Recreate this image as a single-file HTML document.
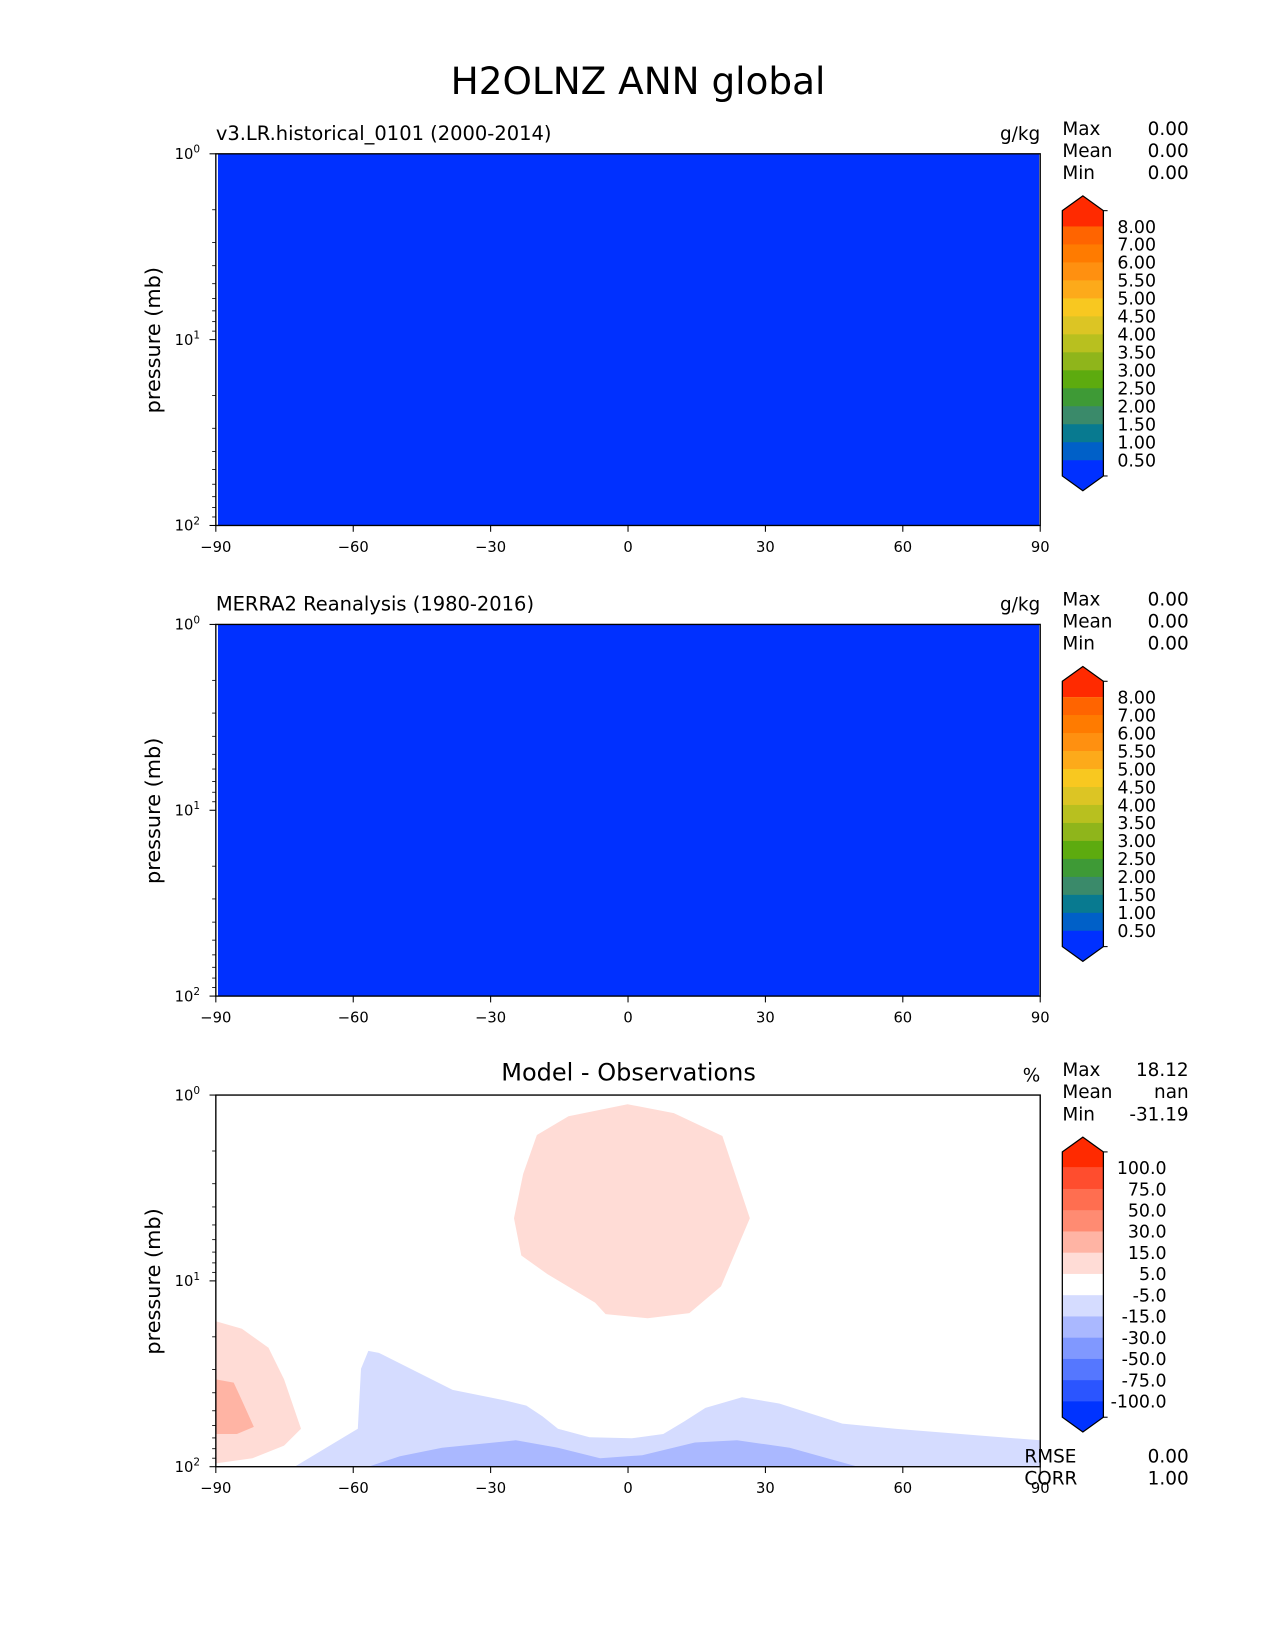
<!DOCTYPE html>
<html><head><meta charset="utf-8">
<style>
html,body{margin:0;padding:0;background:#fff;}
svg{display:block;font-family:"DejaVu Sans","Liberation Sans",sans-serif;}
</style></head>
<body>
<svg id="fig" width="1275" height="1650" viewBox="0 0 1211 1567" xmlns="http://www.w3.org/2000/svg">
<rect x="0" y="0" width="1211" height="1567" fill="#fff"/>
<text x="606" y="89" font-size="35.5" text-anchor="middle">H2OLNZ ANN global</text>
</svg>
<script>
// ---- data ----
const latTicks = [-90,-60,-30,0,30,60,90];
const fieldLevels = ["8.00","7.00","6.00","5.50","5.00","4.50","4.00","3.50","3.00","2.50","2.00","1.50","1.00","0.50"];
const fieldColors = ["#ff2a00","#ff6400","#ff7b00","#ff9010","#fdaa1a","#f8c820","#dcc524","#b8c01f","#8fb51b","#5dab0f","#3e9a36","#3a8a6a","#087a90","#0060c8","#0030ff"];
const diffLevels = ["100.0","75.0","50.0","30.0","15.0","5.0","-5.0","-15.0","-30.0","-50.0","-75.0","-100.0"];
const diffColors = ["#ff2a00","#ff4d2e","#ff6e50","#ff8b72","#ffb4a4","#ffdcd6","#ffffff","#d5dcff","#aab8ff","#8098ff","#5577ff","#2b55ff","#0033ff"];
const stats1 = [["Max","0.00"],["Mean","0.00"],["Min","0.00"]];
const stats2 = [["Max","0.00"],["Mean","0.00"],["Min","0.00"]];
const stats3 = [["Max","18.12"],["Mean","nan"],["Min","-31.19"]];
const stats3b = [["RMSE","0.00"],["CORR","1.00"]];
// contour polygons for difference panel: [lat, pressure mb]
const pinkBlobLat = [-19.9,-13.0,-0.1,10.0,20.6,26.6,20.3,13.4,4.3,-4.9,-7.2,-17.6,-23.3,-24.9,-22.9];
const pinkBlobP   = [1.64,1.30,1.12,1.25,1.66,4.6,10.7,14.9,15.9,15.1,13.1,9.2,7.3,4.6,2.66];
const pinkLeftLat = [-90,-84.3,-78.5,-75.1,-71.4,-75.1,-82.0,-90];
const pinkLeftP   = [16.5,18.1,22.9,33.9,62.5,77,90,96];
const salmonLeftLat = [-90,-86.1,-84.3,-81.7,-85.4,-90];
const salmonLeftP   = [33.9,35.3,44,61,66.7,66.7];
const blueLightLat = [-72.8,-59.0,-58.3,-56.7,-54.4,-45.2,-38.3,-26.8,-22.2,-18.7,-15.3,-8.4,0.8,7.7,12.3,16.9,24.9,33.0,46.8,58.3,90,90];
const blueLightP   = [100,62.5,29.7,23.8,24.4,31.7,38.6,44,46.9,53.5,62.5,69.4,70.3,66.7,57,48.2,42.3,45.7,58.6,62.5,72.1,100];
const blueMidLat = [-56.7,-49.8,-40.6,-24.5,-15.3,-6.1,3.1,14.6,23.8,35.3,50.2];
const blueMidP   = [100,87.8,79,72.1,79,90,86.7,74.1,72.1,79,100];

// ---- helpers ----
const NS="http://www.w3.org/2000/svg";
const svg=document.getElementById('fig');
function mk(tag,attrs,parent){const e=document.createElementNS(NS,tag);for(const k in attrs)e.setAttribute(k,attrs[k]);(parent||svg).appendChild(e);return e;}
const X0=205,X1=988;
function xS(lat){return X0+(lat+90)/180*(X1-X0);}
function yS(p,top){return top+Math.log10(p)/2*353;}

function panel(top,key,leftTitle,rightUnit,centerTitle,fill){
  const g=mk('g',{});
  
  
  if(fill){
    const r=mk('rect',{x:X0+2,y:top,width:X1-X0-3,height:353,fill:fill},g);
    
    
  }
  if(leftTitle){const t=mk('text',{x:205,y:top-13,'font-size':18.5},g);t.textContent=leftTitle;
    }
  if(centerTitle){const t=mk('text',{x:597,y:top-14,'font-size':22.8,'text-anchor':'middle'},g);t.textContent=centerTitle;
    }
  const u=mk('text',{x:988,y:top-13,'font-size':17.5,'text-anchor':'end'},g);u.textContent=rightUnit;
  
  // y label
  const yl=mk('text',{x:0,y:0,'font-size':19.8,'text-anchor':'middle',transform:`translate(152,${top+177}) rotate(-90)`},g);
  yl.textContent='pressure (mb)';
  
  // y ticks major
  for(let e=0;e<=2;e++){
    const y=top+e/2*353;
    mk('line',{x1:X0-6,x2:X0,y1:y,y2:y,stroke:'#000','stroke-width':1},g);
    const t=mk('text',{x:X0-15,y:y+5,'font-size':14,'text-anchor':'end'},g);
    t.textContent='10';
    const s=mk('tspan',{dy:-6,'font-size':10},t);s.textContent=String(e);
    
  }
  // minor ticks
  for(let d=0;d<2;d++)for(let m=2;m<=9;m++){
    const y=yS(m*Math.pow(10,d),top);
    mk('line',{x1:X0-3.5,x2:X0,y1:y,y2:y,stroke:'#000','stroke-width':0.8},g);
  }
  // x ticks
  latTicks.forEach(v=>{
    const x=xS(v);
    mk('line',{x1:x,x2:x,y1:top+353,y2:top+359,stroke:'#000','stroke-width':1},g);
    const t=mk('text',{x:x,y:top+378,'font-size':14,'text-anchor':'middle'},g);
    t.textContent=v<0?'\u2212'+(-v):String(v);
    
  });
  return g;
}
function frame(top,g){mk('rect',{x:X0,y:top,width:X1-X0,height:353,fill:'none',stroke:'#000','stroke-width':1.3},g);}

function stats(list,top,key,g){
  list.forEach((r,i)=>{
    const y=top+i*21;
    const a=mk('text',{x:1009,y:y,'font-size':17.5},g);a.textContent=r[0];
    
    const b=mk('text',{x:1129,y:y,'font-size':17.5,'text-anchor':'end'},g);b.textContent=r[1];
    
  });
}
function colorbar(top,bottom,levels,colors,key,g){
  const cb=mk('g',{},g);
  
  
  const L=1009,R=1048,tip=14,n=levels.length;
  const first=top+15,last=bottom-15;
  const step=(last-first)/(n-1);
  const bound=i=>first+i*step;
  mk('polygon',{points:`${L},${top} ${(L+R)/2},${top-tip} ${R},${top} ${R},${bound(0)} ${L},${bound(0)}`,fill:colors[0]},cb);
  for(let i=0;i<n-1;i++){
    mk('rect',{x:L,y:bound(i),width:R-L,height:step+0.5,fill:colors[i+1]},cb);
  }
  mk('polygon',{points:`${L},${bound(n-1)} ${R},${bound(n-1)} ${R},${bottom} ${(L+R)/2},${bottom+tip} ${L},${bottom}`,fill:colors[n]},cb);
  mk('polygon',{points:`${L},${top} ${(L+R)/2},${top-tip} ${R},${top} ${R},${bottom} ${(L+R)/2},${bottom+tip} ${L},${bottom}`,fill:'none',stroke:'#000','stroke-width':1.2},cb);
  mk('line',{x1:R,x2:R+4,y1:top,y2:top,stroke:'#000','stroke-width':1},cb);
  mk('line',{x1:R,x2:R+4,y1:bottom,y2:bottom,stroke:'#000','stroke-width':1},cb);
  levels.forEach((lv,i)=>{
    const t=mk('text',{x:(key==='diff'?1108:1098),y:bound(i)+6,'font-size':16.5,'text-anchor':'end'},cb);
    t.textContent=lv;
    
  });
}
function poly(lats,ps,top,color,name,g){
  const pts=lats.map((la,i)=>xS(la)+','+yS(ps[i],top)).join(' ');
  const p=mk('polygon',{points:pts,fill:color},g);
  
  
}

// ---- panel 1 ----
let g1=panel(146,'model','v3.LR.historical_0101 (2000-2014)','g/kg',null,'#0030ff');
frame(146,g1);
stats(stats1,128,'model',g1);
colorbar(200,452,fieldLevels,fieldColors,'model',g1);

// ---- panel 2 ----
let g2=panel(593,'obs','MERRA2 Reanalysis (1980-2016)','g/kg',null,'#0030ff');
frame(593,g2);
stats(stats2,575,'obs',g2);
colorbar(647,899,fieldLevels,fieldColors,'obs',g2);

// ---- panel 3 ----
let g3=panel(1040,'diff',null,'%','Model - Observations',null);
const clip=mk('clipPath',{id:'c3'},svg);
mk('rect',{x:X0,y:1040,width:X1-X0,height:353},clip);
const cg=mk('g',{'clip-path':'url(#c3)'},g3);


poly(pinkBlobLat,pinkBlobP,1040,'#ffdcd6','contour-positive-upper',cg);
poly(pinkLeftLat,pinkLeftP,1040,'#ffdcd6','contour-positive-left',cg);
poly(salmonLeftLat,salmonLeftP,1040,'#ffb4a4','contour-positive-left-strong',cg);
poly(blueLightLat,blueLightP,1040,'#d5dcff','contour-negative-lower',cg);
poly(blueMidLat,blueMidP,1040,'#aab8ff','contour-negative-lower-strong',cg);
frame(1040,g3);
stats(stats3,1022,'diff',g3);
colorbar(1094,1346,diffLevels,diffColors,'diff',g3);
stats3b.forEach((r,i)=>{
  const y=1389+i*21;
  const a=mk('text',{x:973,y:y,'font-size':17.5},g3);a.textContent=r[0];
  
  const b=mk('text',{x:1129,y:y,'font-size':17.5,'text-anchor':'end'},g3);b.textContent=r[1];
  
});
</script>
</body></html>
